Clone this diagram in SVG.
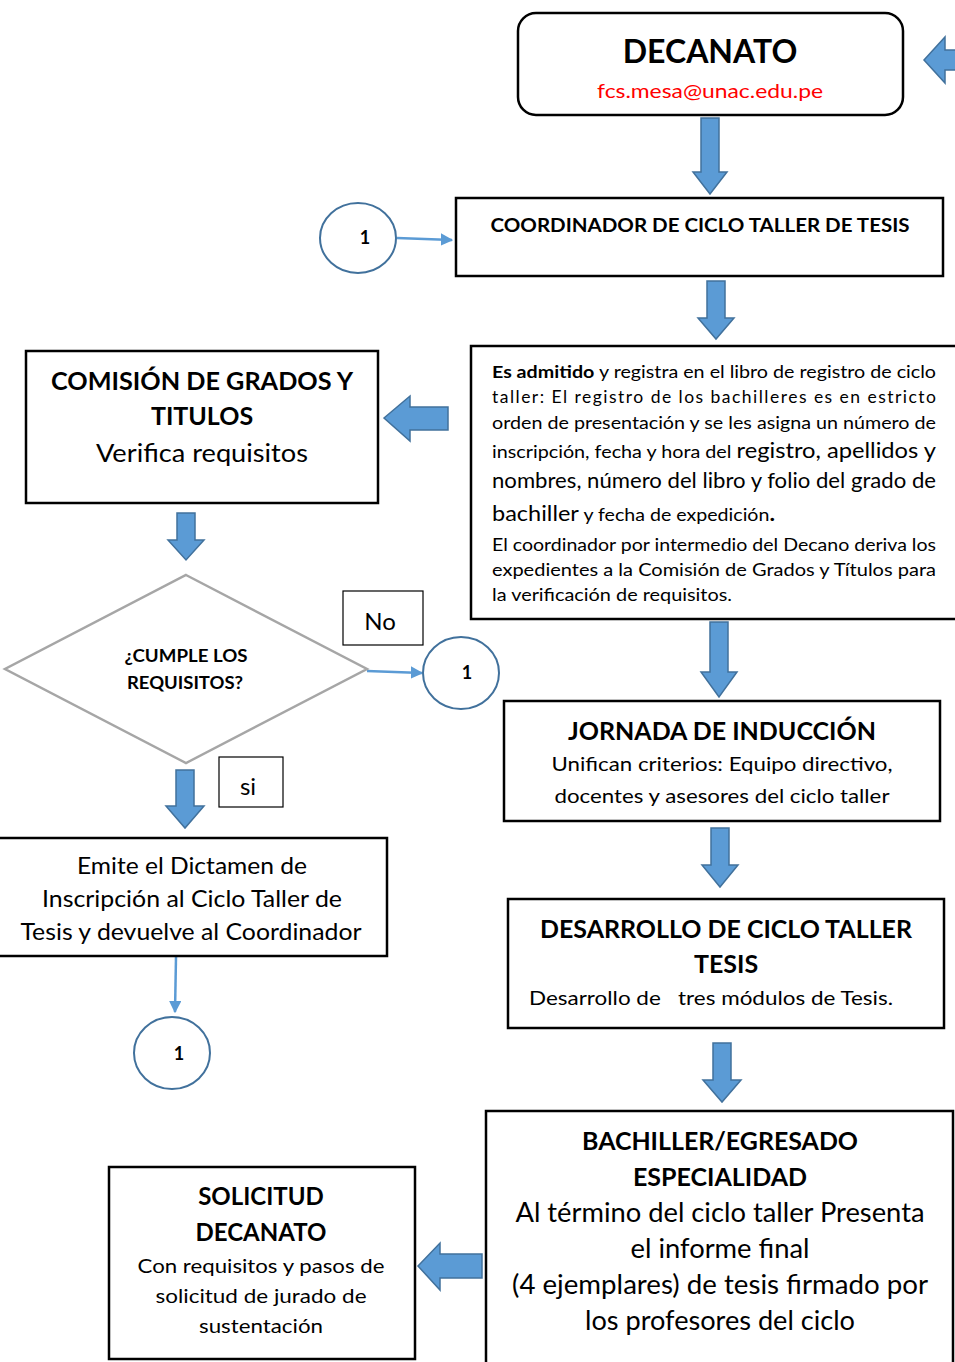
<svg xmlns="http://www.w3.org/2000/svg" width="955" height="1362" viewBox="0 0 955 1362">
<defs>
<style>
text{font-family:Lato,"Noto Sans","Liberation Sans",sans-serif;fill:#000;}
.b{font-weight:bold;}
.c{text-anchor:middle;}
.box{fill:#fff;stroke:#000;stroke-width:2.5;}
.thin{fill:#fff;stroke:#000;stroke-width:1.2;}
.blk{fill:#5B9BD5;stroke:#41719C;stroke-width:1.5;stroke-linejoin:miter;}
.circ{fill:#fff;stroke:#41719C;stroke-width:2;}
.ln{fill:none;stroke:#5B9BD5;stroke-width:2.5;}
</style>
<marker id="ah" viewBox="0 0 10 10" refX="9" refY="5" markerWidth="5" markerHeight="5" orient="auto" markerUnits="strokeWidth">
<path d="M0,0 L10,5 L0,10 z" fill="#5B9BD5"/>
</marker>
</defs>
<rect width="955" height="1362" fill="#fff"/>

<g id="connectors">
<path class="blk" d="M924,60 L945,37 L945,50 L960,50 L960,70 L945,70 L945,83 Z"/>
<path class="blk" d="M701,118 L719,118 L719,172 L727,172 L710,194 L693,172 L701,172 Z"/>
<path class="blk" d="M707,281 L725,281 L725,318 L734,318 L716,339 L698,318 L707,318 Z"/>
<path class="blk" d="M384,418 L410,396 L410,407 L448,407 L448,430 L410,430 L410,441 Z"/>
<path class="blk" d="M177,513 L195,513 L195,540 L204,540 L186,560 L168,540 L177,540 Z"/>
<path class="blk" d="M176,770 L194,770 L194,806 L204,806 L185,828 L166,806 L176,806 Z"/>
<path class="blk" d="M710,622 L728,622 L728,672 L737,672 L719,697 L701,672 L710,672 Z"/>
<path class="blk" d="M711,828 L729,828 L729,865 L738,865 L720,887 L702,865 L711,865 Z"/>
<path class="blk" d="M713,1043 L731,1043 L731,1080 L741,1080 L722,1102 L703,1080 L713,1080 Z"/>
<path class="blk" d="M418,1266 L440,1243 L440,1254 L482,1254 L482,1278 L440,1278 L440,1290 Z"/>
<line class="ln" x1="397" y1="238" x2="452" y2="240" marker-end="url(#ah)"/>
<line class="ln" x1="367" y1="671" x2="422" y2="673" marker-end="url(#ah)"/>
<line class="ln" x1="176" y1="957" x2="175" y2="1012" marker-end="url(#ah)"/>
</g>

<g id="decanato">
<rect class="box" x="518" y="13" width="385" height="102" rx="18"/>
<text class="b c" x="710" y="63" font-size="32">DECANATO</text>
<text class="c" x="710" y="98" font-size="20" textLength="226" lengthAdjust="spacingAndGlyphs" style="fill:#FF0000">fcs.mesa@unac.edu.pe</text>
</g>

<g id="coordinador">
<rect class="box" x="456" y="198" width="487" height="78"/>
<text class="b c" x="700" y="232" font-size="19" textLength="419" lengthAdjust="spacingAndGlyphs">COORDINADOR DE CICLO TALLER DE TESIS</text>
</g>

<g id="conector1a">
<ellipse class="circ" cx="358" cy="238" rx="38" ry="35"/>
<text class="b c" x="365" y="244" font-size="18">1</text>
</g>

<g id="admitido">
<rect class="box" x="471" y="346" width="490" height="273"/>
<text x="492" y="378" font-size="17.5" textLength="444" lengthAdjust="spacingAndGlyphs"><tspan class="b">Es admitido</tspan> y registra en el libro de registro de ciclo</text>
<text x="492" y="403" font-size="17.5" textLength="444" lengthAdjust="spacing">taller: El registro de los bachilleres es en estricto</text>
<text x="492" y="429" font-size="17.5" textLength="444" lengthAdjust="spacingAndGlyphs">orden de presentación y se les asigna un número de</text>
<text x="492" y="458" font-size="17.5" textLength="444" lengthAdjust="spacingAndGlyphs">inscripción, fecha y hora del <tspan font-size="21">registro, apellidos y</tspan></text>
<text x="492" y="488" font-size="21" textLength="444" lengthAdjust="spacingAndGlyphs">nombres, número del libro y folio del grado de</text>
<text x="492" y="521" font-size="17.5" textLength="283" lengthAdjust="spacingAndGlyphs"><tspan font-size="21">bachiller</tspan> y fecha de expedición<tspan class="b" font-size="21">.</tspan></text>
<text x="492" y="551" font-size="17.5" textLength="444" lengthAdjust="spacingAndGlyphs">El coordinador por intermedio del Decano deriva los</text>
<text x="492" y="576" font-size="17.5" textLength="444" lengthAdjust="spacingAndGlyphs">expedientes a la Comisión de Grados y Títulos para</text>
<text x="492" y="601" font-size="17.5" textLength="240" lengthAdjust="spacingAndGlyphs">la verificación de requisitos.</text>
</g>

<g id="comision">
<rect class="box" x="26" y="351" width="352" height="152"/>
<text class="b c" x="202" y="390" font-size="25" textLength="302" lengthAdjust="spacingAndGlyphs">COMISIÓN DE GRADOS Y</text>
<text class="b c" x="202" y="425" font-size="25">TITULOS</text>
<text class="c" x="202" y="462" font-size="25" textLength="212" lengthAdjust="spacingAndGlyphs">Verifica requisitos</text>
</g>

<g id="decision">
<polygon points="186,575 367,669 186,763 5,669" fill="#fff" stroke="#A6A6A6" stroke-width="2.5"/>
<text class="b c" x="186" y="662" font-size="16.5" textLength="123" lengthAdjust="spacingAndGlyphs">¿CUMPLE LOS</text>
<text class="b c" x="185" y="689" font-size="16.5" textLength="116" lengthAdjust="spacingAndGlyphs">REQUISITOS?</text>
</g>

<g id="no-label">
<rect class="thin" x="343" y="591" width="80" height="54"/>
<text class="c" x="380" y="630" font-size="24">No</text>
</g>

<g id="conector1b">
<ellipse class="circ" cx="461" cy="673" rx="38" ry="36"/>
<text class="b c" x="467" y="679" font-size="18">1</text>
</g>

<g id="si-label">
<rect class="thin" x="219" y="757" width="64" height="50"/>
<text class="c" x="248" y="795" font-size="24">si</text>
</g>

<g id="dictamen">
<rect class="box" x="-2" y="838" width="389" height="118"/>
<text class="c" x="192" y="874" font-size="23" textLength="230" lengthAdjust="spacingAndGlyphs">Emite el Dictamen de</text>
<text class="c" x="192" y="907" font-size="23" textLength="300" lengthAdjust="spacingAndGlyphs">Inscripción al Ciclo Taller de</text>
<text class="c" x="191" y="940" font-size="23" textLength="341" lengthAdjust="spacingAndGlyphs">Tesis y devuelve al Coordinador</text>
</g>

<g id="conector1c">
<ellipse class="circ" cx="172" cy="1053" rx="38" ry="36"/>
<text class="b c" x="179" y="1060" font-size="18">1</text>
</g>

<g id="jornada">
<rect class="box" x="504" y="701" width="436" height="120"/>
<text class="b c" x="722" y="740" font-size="25" textLength="308" lengthAdjust="spacingAndGlyphs">JORNADA DE INDUCCIÓN</text>
<text class="c" x="722" y="771" font-size="20" textLength="341" lengthAdjust="spacingAndGlyphs">Unifican criterios: Equipo directivo,</text>
<text class="c" x="722" y="803" font-size="20" textLength="335" lengthAdjust="spacingAndGlyphs">docentes y asesores del ciclo taller</text>
</g>

<g id="desarrollo">
<rect class="box" x="508" y="899" width="436" height="129"/>
<text class="b c" x="726" y="938" font-size="25" textLength="372" lengthAdjust="spacingAndGlyphs">DESARROLLO DE CICLO TALLER</text>
<text class="b c" x="726" y="973" font-size="25">TESIS</text>
<text x="529" y="1005" font-size="20" textLength="364" lengthAdjust="spacingAndGlyphs" style="white-space:pre">Desarrollo de   tres módulos de Tesis.</text>
</g>

<g id="bachiller">
<rect class="box" x="486" y="1111" width="467" height="270"/>
<text class="b c" x="720" y="1150" font-size="25" textLength="276" lengthAdjust="spacingAndGlyphs">BACHILLER/EGRESADO</text>
<text class="b c" x="720" y="1186" font-size="25">ESPECIALIDAD</text>
<text class="c" x="720" y="1222" font-size="26" textLength="409" lengthAdjust="spacingAndGlyphs">Al término del ciclo taller Presenta</text>
<text class="c" x="720" y="1258" font-size="26" textLength="179" lengthAdjust="spacingAndGlyphs">el informe final</text>
<text class="c" x="720" y="1294" font-size="26" textLength="416" lengthAdjust="spacingAndGlyphs">(4 ejemplares) de tesis firmado por</text>
<text class="c" x="720" y="1330" font-size="26" textLength="270" lengthAdjust="spacingAndGlyphs">los profesores del ciclo</text>
</g>

<g id="solicitud">
<rect class="box" x="109" y="1167" width="306" height="192"/>
<text class="b c" x="261" y="1205" font-size="24">SOLICITUD</text>
<text class="b c" x="261" y="1241" font-size="24">DECANATO</text>
<text class="c" x="261" y="1273" font-size="20" textLength="247" lengthAdjust="spacingAndGlyphs">Con requisitos y pasos de</text>
<text class="c" x="261" y="1303" font-size="20" textLength="211" lengthAdjust="spacingAndGlyphs">solicitud de jurado de</text>
<text class="c" x="261" y="1333" font-size="20" textLength="124" lengthAdjust="spacingAndGlyphs">sustentación</text>
</g>
</svg>
